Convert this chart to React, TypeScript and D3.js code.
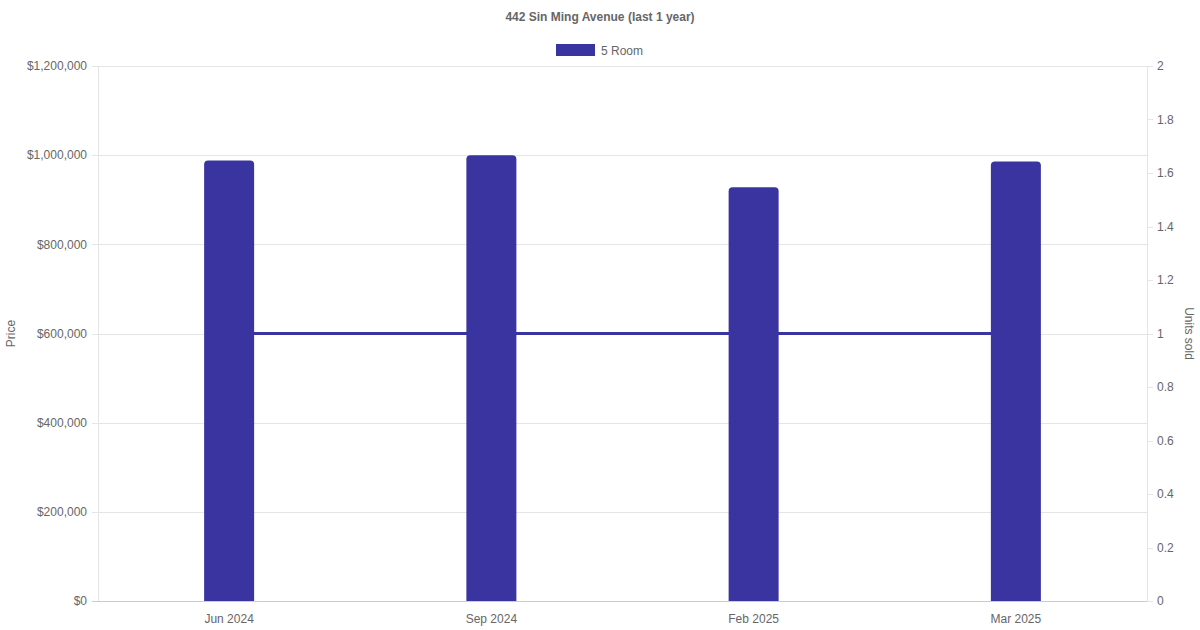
import { useEffect, useRef } from 'react';
import * as d3 from 'd3';

// chart data
const months = ['Jun 2024', 'Sep 2024', 'Feb 2025', 'Mar 2025'];
const prices = [988000, 1000000, 928000, 986000];
const unitsSold = [1, 1, 1, 1];
const priceTicks = [0, 200000, 400000, 600000, 800000, 1000000, 1200000];
const unitTicks = [0, 0.2, 0.4, 0.6, 0.8, 1, 1.2, 1.4, 1.6, 1.8, 2];

const WIDTH = 1200;
const HEIGHT = 630;
const BAR_COLOR = '#3934a0';
const TEXT = '#666';
const FONT = '"Liberation Sans", Arial, Helvetica, sans-serif';
const DY = 1; // nudge text down to match baseline

const App = () => {
  const svgRef = useRef<SVGSVGElement>(null);

  useEffect(() => {
    if (!svgRef.current) return;
    const svg = d3.select(svgRef.current);
    svg.selectAll('*').remove();

    const left = 98, right = 1147, top = 66, bottom = 601;

    const x = d3.scaleBand<string>().domain(months).range([left, right]);
    const yPrice = d3.scaleLinear().domain([0, 1200000]).range([bottom, top]);
    const yUnits = d3.scaleLinear().domain([0, 2]).range([bottom, top]);
    const money = d3.format('$,');

    // title
    svg.append('text')
      .attr('x', WIDTH / 2).attr('y', 17 + DY)
      .attr('text-anchor', 'middle').attr('dominant-baseline', 'middle')
      .attr('font-size', 12).attr('font-weight', 'bold')
      .attr('fill', TEXT).text('442 Sin Ming Avenue (last 1 year)');

    // legend
    svg.append('rect')
      .attr('x', 556).attr('y', 44).attr('width', 39).attr('height', 12)
      .attr('fill', BAR_COLOR);
    svg.append('text')
      .attr('x', 601).attr('y', 50 + DY + 0.5)
      .attr('dominant-baseline', 'middle')
      .attr('font-size', 12).attr('fill', TEXT).text('5 Room');

    // grid lines (left axis)
    priceTicks.forEach(t => {
      svg.append('line')
        .attr('x1', left - 6).attr('x2', right)
        .attr('y1', Math.round(yPrice(t)) + 0.5).attr('y2', Math.round(yPrice(t)) + 0.5)
        .attr('stroke', t === 0 ? '#ccc' : '#e5e5e5');
    });
    // right tick marks
    unitTicks.forEach(t => {
      svg.append('line')
        .attr('x1', right).attr('x2', right + 6)
        .attr('y1', Math.round(yUnits(t)) + 0.5).attr('y2', Math.round(yUnits(t)) + 0.5)
        .attr('stroke', '#e5e5e5');
    });
    // vertical axis lines
    svg.append('line')
      .attr('x1', left + 0.5).attr('x2', left + 0.5)
      .attr('y1', top).attr('y2', bottom)
      .attr('stroke', '#e5e5e5');
    svg.append('line')
      .attr('x1', right + 0.5).attr('x2', right + 0.5)
      .attr('y1', top).attr('y2', bottom)
      .attr('stroke', '#e5e5e5');

    // left tick labels
    priceTicks.forEach(t => {
      svg.append('text')
        .attr('x', 87).attr('y', yPrice(t) + DY)
        .attr('text-anchor', 'end').attr('dominant-baseline', 'middle')
        .attr('font-size', 12).attr('fill', TEXT).text(money(t));
    });
    // right tick labels
    unitTicks.forEach(t => {
      svg.append('text')
        .attr('x', 1157).attr('y', yUnits(t) + DY)
        .attr('dominant-baseline', 'middle')
        .attr('font-size', 12).attr('fill', TEXT).text(String(t));
    });
    // x labels
    months.forEach(m => {
      svg.append('text')
        .attr('x', x(m)! + x.bandwidth() / 2).attr('y', 619 + DY)
        .attr('text-anchor', 'middle').attr('dominant-baseline', 'middle')
        .attr('font-size', 12).attr('fill', TEXT).text(m);
    });

    // axis titles
    svg.append('text')
      .attr('transform', `translate(${11 + DY}, ${(top + bottom) / 2}) rotate(-90)`)
      .attr('text-anchor', 'middle').attr('dominant-baseline', 'middle')
      .attr('font-size', 12).attr('fill', TEXT).text('Price');
    svg.append('text')
      .attr('transform', `translate(${1189 - DY}, ${(top + bottom) / 2}) rotate(90)`)
      .attr('text-anchor', 'middle').attr('dominant-baseline', 'middle')
      .attr('font-size', 12).attr('fill', TEXT).text('Units sold');

    // units line (behind bars)
    const line = d3.line<number>()
      .x((_, i) => x(months[i])! + x.bandwidth() / 2)
      .y(d => yUnits(d));
    svg.append('path')
      .attr('d', line(unitsSold) || '')
      .attr('fill', 'none').attr('stroke', BAR_COLOR).attr('stroke-width', 3);

    // bars with rounded top corners
    const barW = 50;
    const r = 4;
    prices.forEach((p, i) => {
      const cx = x(months[i])! + x.bandwidth() / 2;
      const x0 = cx - barW / 2, x1 = cx + barW / 2;
      const y0 = yPrice(p), y1 = yPrice(0);
      const path = d3.path();
      path.moveTo(x0, y1);
      path.lineTo(x0, y0 + r);
      path.quadraticCurveTo(x0, y0, x0 + r, y0);
      path.lineTo(x1 - r, y0);
      path.quadraticCurveTo(x1, y0, x1, y0 + r);
      path.lineTo(x1, y1);
      path.closePath();
      svg.append('path').attr('d', path.toString()).attr('fill', BAR_COLOR);
    });
  }, []);

  return (
    <svg
      ref={svgRef}
      width={WIDTH}
      height={HEIGHT}
      style={{ position: 'absolute', left: 0, top: 0, background: '#fff', fontFamily: FONT }}
    />
  );
};

export default App;
